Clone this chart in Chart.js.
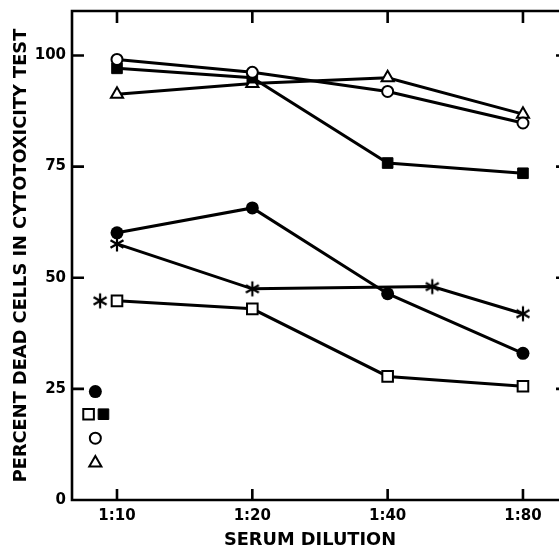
<!DOCTYPE html>
<html><head><meta charset="utf-8">
<script src="https://cdn.jsdelivr.net/npm/chart.js@4"></script>
<style>html,body{margin:0;padding:0;background:#fff;overflow:hidden}canvas{display:block}</style>
</head><body><canvas id="c" width="559" height="553"></canvas>
<script>
// ---- data ----
const dilutionLabels = ['1:10', '1:20', '1:40', '1:80'];
const dilutionIndex = [0, 1, 2, 3];
const yTickValues = [0, 25, 50, 75, 100];
const openCircle   = [99.1, 96.2, 91.9, 84.8];
const filledSquare = [97.1, 95.0, 75.8, 73.5];
const openTriangle = [91.3, 93.7, 95.0, 86.8];
const filledCircle = [60.1, 65.7, 46.4, 33.0];
const openSquare   = [44.8, 43.0, 27.8, 25.6];
const asteriskX    = [0, 1, 2.33, 3];
const asteriskY    = [57.6, 47.5, 48.0, 41.9];
// isolated control points: [x in dilution-index units, percent]
const ctrlFilledCircle = [-0.16, 24.4];
const ctrlOpenSquare   = [-0.21, 19.3];
const ctrlFilledSquare = [-0.10, 19.3];
const ctrlOpenCircle   = [-0.16, 13.9];
const ctrlTriangle     = [-0.16, 8.3];
const ctrlAsterisk     = [-0.125, 44.8];

// ---- helpers ----
function series(ys){ return ys.map((v,i)=>({x: dilutionIndex[i], y: v})); }
function pt(p){ return [{x: p[0], y: p[1]}]; }
function makeAsterisk(){
  const s = 18, c = document.createElement('canvas'); c.width = s; c.height = s;
  const g = c.getContext('2d'); g.strokeStyle = '#000'; g.lineWidth = 2.2; g.lineCap = 'butt';
  const r = 7.5, cx = s/2, cy = s/2;
  g.beginPath();
  [90, 30, -30].forEach(a => { const t = a*Math.PI/180;
    g.moveTo(cx - r*Math.cos(t), cy - r*Math.sin(t)); g.lineTo(cx + r*Math.cos(t), cy + r*Math.sin(t)); });
  g.stroke(); return c;
}
const star = makeAsterisk();
const LW = 3;
const base = {borderColor:'#000', borderWidth: LW, tension: 0, showLine: true, pointBorderColor:'#000', pointBorderWidth: 2};
const openStyle = {pointBackgroundColor:'#fff'};
const filledStyle = {pointBackgroundColor:'#000'};

const datasets = [
  {...base, ...openStyle, data: series(openCircle), pointStyle:'circle', pointRadius:5.5},
  {...base, ...filledStyle, data: series(filledSquare), pointStyle:'rect', pointRadius:7.5, pointBorderWidth:1},
  {...base, ...openStyle, data: series(openTriangle), pointStyle:'triangle', pointRadius:7},
  {...base, ...filledStyle, data: series(filledCircle), pointStyle:'circle', pointRadius:6.5, pointBorderWidth:0},
  {...base, ...openStyle, data: series(openSquare), pointStyle:'rect', pointRadius:7.5},
  {...base, data: asteriskX.map((x,i)=>({x, y: asteriskY[i]})), pointStyle: star, pointRadius:9},
  {...base, ...filledStyle, showLine:false, data: pt(ctrlFilledCircle), pointStyle:'circle', pointRadius:6.5, pointBorderWidth:0},
  {...base, ...openStyle, showLine:false, data: pt(ctrlOpenSquare), pointStyle:'rect', pointRadius:7.5},
  {...base, ...filledStyle, showLine:false, data: pt(ctrlFilledSquare), pointStyle:'rect', pointRadius:7.5, pointBorderWidth:1},
  {...base, ...openStyle, showLine:false, data: pt(ctrlOpenCircle), pointStyle:'circle', pointRadius:5.5},
  {...base, ...openStyle, showLine:false, data: pt(ctrlTriangle), pointStyle:'triangle', pointRadius:7},
  {...base, showLine:false, data: pt(ctrlAsterisk), pointStyle: star, pointRadius:9},
];

const framePlugin = {
  id: 'frame',
  beforeDatasetsDraw(chart){
    const {ctx, chartArea: a, scales: {x, y}} = chart;
    ctx.save(); ctx.strokeStyle = '#000'; ctx.lineWidth = 2.6;
    ctx.beginPath();
    ctx.moveTo(chart.width, a.top); ctx.lineTo(a.left, a.top); ctx.lineTo(a.left, a.bottom); ctx.lineTo(chart.width, a.bottom);
    ctx.stroke();
    ctx.beginPath();
    yTickValues.forEach(v => { const py = y.getPixelForValue(v);
      if (v > 0) { ctx.moveTo(a.left, py); ctx.lineTo(a.left + 12, py); ctx.moveTo(chart.width - 3, py); ctx.lineTo(chart.width, py); } });
    dilutionIndex.forEach(v => { const px = x.getPixelForValue(v);
      ctx.moveTo(px, a.bottom); ctx.lineTo(px, a.bottom - 11);
      ctx.moveTo(px, a.top); ctx.lineTo(px, a.top + 12); });
    ctx.stroke(); ctx.restore();
  }
};

const tickFont = {family: 'DejaVu Sans', weight: 'bold', size: 15};
const titleFont = {family: 'DejaVu Sans', weight: 'bold', size: 17.8};

new Chart(document.getElementById('c'), {
  type: 'scatter',
  data: {datasets},
  options: {
    responsive: false, animation: false,
    layout: {padding: {top: 10, right: 0, left: 0, bottom: 0}},
    plugins: {legend: {display: false}, tooltip: {enabled: false}},
    scales: {
      x: {
        type: 'linear', min: -0.3325, max: 3.185,
        grid: {display: false, drawTicks: false, tickLength: 0}, border: {display: false},
        afterBuildTicks: s => { s.ticks = dilutionIndex.map(v => ({value: v})); },
        afterFit: s => { s.height = 53; s.paddingLeft = 0; s.paddingRight = 0; },
        ticks: {font: tickFont, color: '#000', padding: 7, maxRotation: 0,
          callback: v => dilutionLabels[dilutionIndex.indexOf(v)]},
        title: {display: true, text: 'SERUM DILUTION', font: titleFont, color: '#000', padding: {top: 0, bottom: 2}}
      },
      y: {
        min: 0, max: 110,
        grid: {display: false, drawTicks: false, tickLength: 0}, border: {display: false},
        afterBuildTicks: s => { s.ticks = yTickValues.map(v => ({value: v})); },
        afterFit: s => { s.width = 72; s.paddingTop = 0; s.paddingBottom = 0; },
        ticks: {font: tickFont, color: '#000', padding: 6},
        title: {display: true, text: 'PERCENT DEAD CELLS IN CYTOTOXICITY TEST', font: titleFont, color: '#000', padding: {top: 11, bottom: 0}}
      }
    }
  },
  plugins: [framePlugin]
});
</script></body></html>
